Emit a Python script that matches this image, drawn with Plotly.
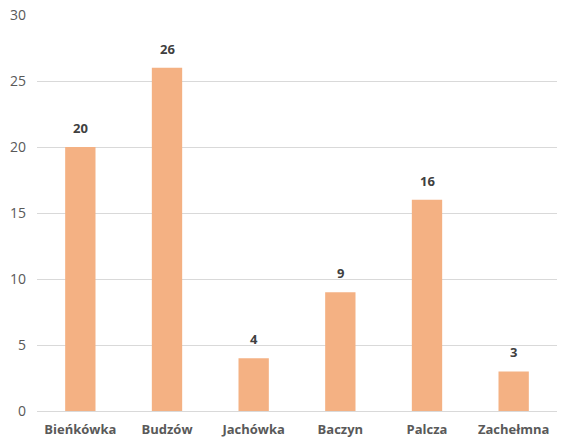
import plotly.graph_objects as go

categories = ["Bieńkówka", "Budzów", "Jachówka", "Baczyn", "Palcza", "Zachełmna"]
values = [20, 26, 4, 9, 16, 3]
y_ticks = [0, 5, 10, 15, 20, 25, 30]

fig = go.Figure(go.Bar(
    x=categories, y=values,
    marker=dict(color="#F4B183", line=dict(width=0)),
    width=0.35,
    hoverinfo="x+y",
))

for c, v in zip(categories, values):
    fig.add_annotation(
        x=c, y=v, text=str(v), showarrow=False, yanchor="bottom", yshift=8,
        font=dict(family="Open Sans", size=13, color="#404040", weight="bold"),
    )

fig.update_layout(
    width=573, height=447,
    margin=dict(l=37, r=16, t=15, b=36, autoexpand=False),
    paper_bgcolor="white", plot_bgcolor="white",
    showlegend=False,
    font=dict(family="Open Sans"),
)
fig.update_xaxes(
    showgrid=False, showline=True, linecolor="#D9D9D9", linewidth=1,
    tickfont=dict(family="Open Sans", size=13, color="#595959", weight="bold"),
    ticks="", ticklabelstandoff=6, automargin=False,
)
fig.update_yaxes(
    range=[0, 30], tickvals=y_ticks, showgrid=True, gridcolor="#D9D9D9",
    gridwidth=1, zeroline=False, showline=False,
    tickfont=dict(family="Open Sans", size=14, color="#595959"),
    ticks="", ticklabelstandoff=10, automargin=False,
)

fig.write_html("out.html")
